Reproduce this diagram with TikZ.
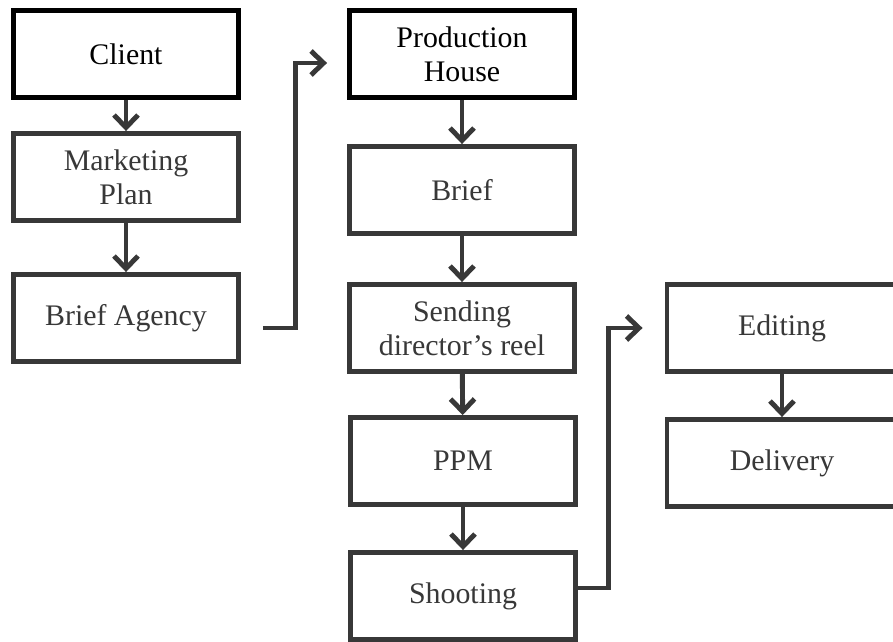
\documentclass[tikz,border=0pt]{standalone}
\usepackage{fontspec}
\setmainfont{Liberation Serif}
\usetikzlibrary{arrows.meta,positioning,calc}
\definecolor{ink}{HTML}{383838}
\tikzset{
  box/.style={draw=ink, line width=2.8pt, rectangle, minimum width=4.5cm, minimum height=1.74cm, align=center, font=\fontsize{17}{19.5}\selectfont, text=ink, fill=white, inner sep=4pt},
  head/.style={box, draw=black, text=black},
  wide/.style={box, minimum width=4.6cm},
  arr/.style={-{Straight Barb[length=2.5mm, width=4.8mm]}, line width=2.8pt, draw=ink}
}

\begin{document}
\begin{tikzpicture}[x=0.02cm, y=-0.02cm]
\useasboundingbox (0,0) rectangle (893,642);
\node[head] (client) at (126,54) {Client};
\node[box] (mkt) at (126,177) {Marketing\\Plan};
\node[box] (ba) at (126,318) {Brief Agency};
\node[head] (ph) at (462,54) {Production\\House};
\node[box] (brief) at (462,190) {Brief};
\node[box] (reel) at (462,328) {Sending\\director's reel};
\node[box] (ppm) at (463,461) {PPM};
\node[box] (shoot) at (463,596) {Shooting};
\node[wide] (edit) at (782,328) {Editing};
\node[wide] (deliv) at (782,463) {Delivery};
\draw[arr] (client) -- (mkt);
\draw[arr] (mkt) -- (ba);
\draw[arr] ($(ba.east)+(22,10)$) -- ++(33,0) |- ($(ph.west)+(-20,9)$);
\draw[arr] (ph) -- (brief);
\draw[arr] (brief) -- (reel);
\draw[arr] (reel) -- (ppm);
\draw[arr] (ppm) -- (shoot);
\draw[arr] ($(shoot.east)+(0,-8)$) -- ++(31,0) |- ($(edit.west)+(-22,0)$);
\draw[arr] (edit) -- (deliv);
\end{tikzpicture}
\end{document}
